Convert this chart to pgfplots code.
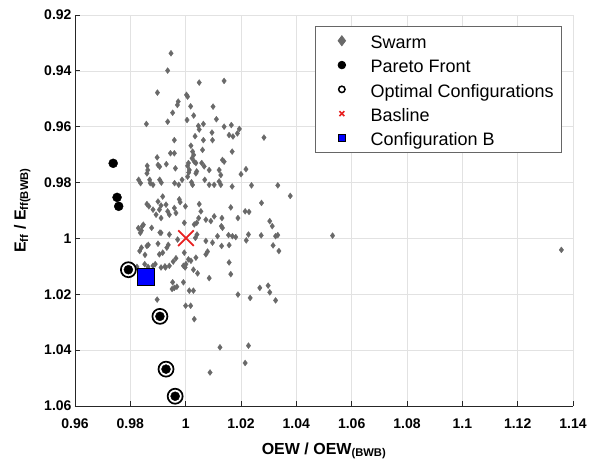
\documentclass[border=0pt]{standalone}
\usepackage{pgfplots}
\usepackage{pgfplotstable}
\pgfplotsset{compat=1.18}
\usepackage{fontspec}
\setmainfont{Liberation Sans}
\definecolor{swarm}{RGB}{105,105,105}
\definecolor{gridc}{RGB}{226,226,226}
\definecolor{bred}{RGB}{232,32,32}
\pgfplotstableread{
x y
0.9947 0.9337
0.9935 0.9399
0.9898 0.9478
1.0049 0.9442
1.0139 0.9436
1.0003 0.9486
1.0007 0.9492
1.0099 0.9528
0.9970 0.9522
0.9973 0.9510
0.9953 0.9550
1.0018 0.9527
1.0111 0.9573
1.0029 0.9560
1.0005 0.9576
0.9935 0.9582
0.9858 0.9590
1.0046 0.9597
1.0049 0.9610
1.0064 0.9590
1.0139 0.9600
1.0165 0.9594
1.0194 0.9608
1.0187 0.9624
1.0171 0.9635
1.0157 0.9630
1.0283 0.9639
1.0034 0.9634
1.0064 0.9648
1.0095 0.9621
1.0097 0.9648
0.9959 0.9648
1.0168 0.9689
1.0019 0.9668
1.0025 0.9689
1.0029 0.9701
1.0023 0.9713
1.0031 0.9725
1.0061 0.9683
0.9945 0.9695
0.9959 0.9695
0.9897 0.9710
0.9930 0.9734
0.9963 0.9749
1.0007 0.9740
1.0013 0.9755
1.0010 0.9730
1.0037 0.9730
1.0040 0.9760
1.0058 0.9730
1.0067 0.9742
1.0011 0.9764
0.9861 0.9740
0.9863 0.9755
0.9860 0.9767
1.0121 0.9755
1.0127 0.9773
1.0133 0.9719
1.0139 0.9725
1.0218 0.9752
1.0200 0.9770
1.0085 0.9755
0.9900 0.9737
0.9906 0.9743
0.9830 0.9790
0.9837 0.9802
0.9870 0.9790
0.9872 0.9802
0.9882 0.9808
0.9906 0.9790
0.9912 0.9800
0.9960 0.9802
0.9975 0.9808
0.9987 0.9790
1.0007 0.9779
1.0021 0.9799
1.0025 0.9808
1.0037 0.9767
1.0069 0.9790
1.0085 0.9808
1.0103 0.9808
1.0121 0.9796
1.0127 0.9808
1.0168 0.9814
1.0238 0.9810
1.0333 0.9810
1.0378 0.9848
0.9917 0.9850
0.9977 0.9860
0.9900 0.9868
0.9911 0.9882
0.9860 0.9877
0.9867 0.9885
0.9882 0.9897
0.9905 0.9897
0.9893 0.9915
0.9911 0.9927
0.9929 0.9879
0.9935 0.9903
0.9941 0.9915
0.9959 0.9891
0.9965 0.9909
0.9980 0.9870
0.9999 0.9885
0.9995 0.9944
1.0049 0.9877
1.0055 0.9903
1.0047 0.9927
1.0040 0.9944
1.0031 0.9950
1.0073 0.9933
1.0091 0.9938
1.0103 0.9921
1.0131 0.9927
1.0129 0.9956
1.0133 0.9962
1.0163 0.9889
1.0189 0.9927
1.0215 0.9903
1.0229 0.9905
1.0274 0.9873
1.0304 0.9938
1.0313 0.9956
1.0325 0.9992
1.0333 0.9988
1.0316 1.0025
1.0337 1.0045
1.0273 0.9989
1.0227 0.9986
1.0219 1.0007
1.0155 0.9988
1.0169 0.9992
1.0181 0.9995
1.0115 0.9992
1.0097 1.0015
1.0073 1.0009
1.0079 1.0047
1.0073 1.0057
1.0130 1.0027
1.0157 1.0024
1.0041 0.9986
1.0035 0.9998
0.9971 1.0004
0.9941 0.9986
0.9911 0.9980
0.9900 1.0019
0.9932 1.0033
0.9860 1.0027
0.9840 1.0033
0.9834 1.0045
0.9836 0.9980
0.9843 0.9956
0.9840 0.9972
0.9877 0.9962
0.9905 1.0057
0.9917 1.0051
0.9965 1.0071
0.9995 1.0051
1.0010 1.0075
1.0001 1.0092
0.9998 1.0104
0.9992 1.0098
1.0019 1.0080
1.0037 1.0069
0.9882 1.0098
0.9864 1.0102
0.9890 1.0092
0.9911 1.0104
0.9927 1.0104
0.9941 1.0098
0.9852 1.0092
0.9824 1.0102
1.0043 1.0125
1.0085 1.0142
1.0163 1.0128
1.0157 1.0086
0.9992 1.0157
0.9953 1.0157
0.9959 1.0177
0.9968 1.0173
0.9951 1.0181
1.0013 1.0187
1.0028 1.0187
1.0189 1.0201
1.0233 1.0213
1.0268 1.0177
1.0298 1.0169
1.0304 1.0193
1.0325 1.0222
0.9897 1.0219
1.0000 1.0241
1.0018 1.0241
1.0031 1.0289
1.0124 1.0390
1.0227 1.0384
1.0215 1.0446
1.0088 1.0480
0.9829 0.9963
0.9847 0.9951
0.9907 0.9979
0.9937 1.0023
0.9865 1.0023
0.9853 1.0059
0.9925 1.0100
0.9955 1.0083
1.0028 1.0112
1.0531 0.9990
1.1358 1.0041
}\swarmdata
\begin{document}
\begin{tikzpicture}
\begin{axis}[name=ax, scale only axis, width=498pt, height=391pt,
  xmin=0.96, xmax=1.14, ymin=0.92, ymax=1.06, y dir=reverse,
  xtick={0.96,0.98,1,1.02,1.04,1.06,1.08,1.1,1.12,1.14},
  xticklabels={0.96,0.98,1,1.02,1.04,1.06,1.08,1.1,1.12,1.14},
  ytick={0.92,0.94,0.96,0.98,1,1.02,1.04,1.06},
  yticklabels={0.92,0.94,0.96,0.98,1,1.02,1.04,1.06},
  grid=major, major grid style={gridc, line width=0.6pt},
  axis x line*=bottom, axis y line*=left,
  axis line style={-, line width=0.8pt, color=black!85},
  tick align=inside, major tick length=5pt,
  tick style={black!85, line width=0.8pt},
  ticklabel style={font=\fontsize{14}{16}\selectfont\bfseries},
  xticklabel style={yshift=-9pt},
  xlabel={OEW / OEW\textsubscript{(BWB)}},
  ylabel={E\textsubscript{ff} / E\textsubscript{ff(BWB)}},
  label style={font=\fontsize{16}{18}\selectfont\bfseries},
  xlabel style={at={(axis description cs:0.5,-0.123)}, anchor=base},
  ylabel style={at={(axis description cs:-0.106,0.5)}, anchor=center},
  legend cell align=left,
  legend image code/.code={\path[draw=none,fill=none] (0pt,-4pt) rectangle (47pt,4pt); \draw[#1] plot coordinates {(18.3pt,0pt)};},
  legend style={at={(axis description cs:0.978,0.972)}, anchor=north east,
    draw=black!60, line width=0.8pt, fill=white,
    font=\fontsize{18}{21}\selectfont,
    inner xsep=8pt, inner ysep=6.5pt, row sep=8.5pt,
    nodes={inner sep=0pt, text height=15.8pt, text depth=0pt}},
]
\addplot[only marks, mark=diamond*, mark size=3pt, color=swarm, mark options={draw=swarm, fill=swarm, line width=0.3pt}, forget plot] table[x=x, y=y] {\swarmdata};
\addplot[only marks, mark=*, mark size=4.5pt, black, forget plot] coordinates {
(0.9738,0.9731) (0.9752,0.9853) (0.9758,0.9885)
(0.9793,1.0112) (0.9907,1.0279) (0.9929,1.0468) (0.9962,1.0565)};
\addplot[only marks, mark=o, mark size=7.5pt, black, line width=1.7pt, forget plot] coordinates {
(0.9793,1.0112) (0.9907,1.0279) (0.9929,1.0468) (0.9962,1.0565)};
\addplot[only marks, mark=x, mark size=11pt, color=bred, line width=1.8pt, forget plot] coordinates {(1.0001,0.9999)};
\addplot[only marks, mark=square*, mark size=8.5pt, draw=black, fill=blue, line width=1.2pt, forget plot] coordinates {(0.9856,1.0139)};
\addlegendimage{mark=diamond*, mark size=5pt, color=swarm, mark options={draw=swarm, fill=swarm}}
\addlegendentry{Swarm}
\addlegendimage{mark=*, mark size=3.8pt, black}
\addlegendentry{Pareto Front}
\addlegendimage{mark=o, mark size=3.2pt, black, line width=1.5pt}
\addlegendentry{Optimal Configurations}
\addlegendimage{mark=x, mark size=3.5pt, color=bred, line width=1.5pt}
\addlegendentry{Basline}
\addlegendimage{mark=square*, mark size=3.8pt, draw=black, fill=blue, line width=0.8pt}
\addlegendentry{Configuration B}
\end{axis}
\pgfresetboundingbox
\path ([xshift=-75pt,yshift=-60pt]ax.south west) rectangle ([xshift=19pt,yshift=15pt]ax.north east);
\end{tikzpicture}
\end{document}
